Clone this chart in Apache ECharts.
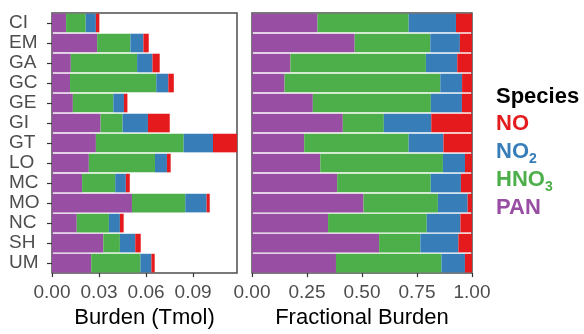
<!DOCTYPE html>
<html>
<head>
<meta charset="utf-8">
<script src="https://cdn.jsdelivr.net/npm/echarts@6/dist/echarts.min.js"></script>
<style>
  html, body { margin: 0; padding: 0; background: #fff; }
  #main { width: 584px; height: 334px; }
</style>
</head>
<body>
<div id="main"></div>
<script>
// regions, top to bottom
var regions = ['CI', 'EM', 'GA', 'GC', 'GE', 'GI', 'GT', 'LO', 'MC', 'MO', 'NC', 'SH', 'UM'];
// burden in Tmol per species
var pan  = [0.0090, 0.0288, 0.0120, 0.0115, 0.0133, 0.0310, 0.0280, 0.0235, 0.0192, 0.0510, 0.0158, 0.0327, 0.0250];
var hno3 = [0.0125, 0.0212, 0.0423, 0.0550, 0.0258, 0.0140, 0.0560, 0.0422, 0.0211, 0.0340, 0.0205, 0.0106, 0.0314];
var no2  = [0.0065, 0.0083, 0.0098, 0.0077, 0.0068, 0.0162, 0.0187, 0.0076, 0.0068, 0.0136, 0.0070, 0.0098, 0.0070];
var no   = [0.0022, 0.0034, 0.0046, 0.0035, 0.0022, 0.0139, 0.0153, 0.0024, 0.0025, 0.0020, 0.0024, 0.0035, 0.0021];
var burdenTicks = [0, 0.03, 0.06, 0.09];
var fracTicks = [0, 0.25, 0.5, 0.75, 1];

var species = [
  { name: 'PAN',  data: pan,  color: '#984EA3' },
  { name: 'HNO3', data: hno3, color: '#4DAF4A' },
  { name: 'NO2',  data: no2,  color: '#377EB8' },
  { name: 'NO',   data: no,   color: '#E41A1C' }
];

var totals = regions.map(function (r, i) {
  return pan[i] + hno3[i] + no2[i] + no[i];
});

var font = 'Liberation Sans, Arial, Helvetica, sans-serif';

var series = [];
species.forEach(function (s) {
  series.push({
    name: s.name, type: 'bar', stack: 'abs', xAxisIndex: 0, yAxisIndex: 0,
    barCategoryGap: '7%', itemStyle: { color: s.color }, data: s.data
  });
});
species.forEach(function (s) {
  series.push({
    name: s.name, type: 'bar', stack: 'frac', xAxisIndex: 1, yAxisIndex: 1,
    barCategoryGap: '7%', itemStyle: { color: s.color },
    data: s.data.map(function (v, i) { return v / totals[i]; })
  });
});

var chartDom = document.getElementById('main');
var myChart = echarts.init(chartDom, null, { renderer: 'canvas' });

function xAxisFor(idx, name, min, max, interval) {
  return {
    type: 'value', gridIndex: idx, min: min, max: max, interval: interval,
    name: name, nameLocation: 'middle', nameGap: 33,
    nameTextStyle: { color: '#000', fontSize: 22, fontFamily: font },
    splitLine: { show: false },
    axisLine: { show: false },
    axisTick: { show: true, length: 4, lineStyle: { color: '#333', width: 1.2 } },
    axisLabel: {
      color: '#4D4D4D', fontSize: 19, fontFamily: font, margin: 10,
      showMaxLabel: idx === 1,
      formatter: function (v) { return v.toFixed(2); }
    }
  };
}

var option = {
  animation: false,
  title: {
    text: 'Species', left: 491, top: 83, padding: [0, 0, 0, 5],
    textStyle: { fontSize: 22, fontWeight: 'bold', color: '#000', fontFamily: font, lineHeight: 28 }
  },
  legend: {
    orient: 'vertical', left: 491, top: 110, padding: 0, itemGap: 0,
    itemWidth: 0, itemHeight: 0,
    data: ['NO', 'NO2', 'HNO3', 'PAN'],
    selectedMode: false,
    formatter: function (n) {
      if (n === 'NO') return '{r|NO}';
      if (n === 'NO2') return '{b|NO}{bs|2}';
      if (n === 'HNO3') return '{g|HNO}{gs|3}';
      return '{p|PAN}';
    },
    textStyle: {
      fontSize: 22, fontWeight: 'bold', fontFamily: font, lineHeight: 28,
      rich: {
        r:  { color: '#E41A1C', fontSize: 22, fontWeight: 'bold', fontFamily: font, lineHeight: 28 },
        b:  { color: '#377EB8', fontSize: 22, fontWeight: 'bold', fontFamily: font, lineHeight: 28 },
        bs: { color: '#377EB8', fontSize: 14, fontWeight: 'bold', fontFamily: font, lineHeight: 18, verticalAlign: 'bottom' },
        g:  { color: '#4DAF4A', fontSize: 22, fontWeight: 'bold', fontFamily: font, lineHeight: 28 },
        gs: { color: '#4DAF4A', fontSize: 14, fontWeight: 'bold', fontFamily: font, lineHeight: 18, verticalAlign: 'bottom' },
        p:  { color: '#984EA3', fontSize: 22, fontWeight: 'bold', fontFamily: font, lineHeight: 28 }
      }
    }
  },
  grid: [
    { left: 52, top: 13, width: 185, height: 266, show: true, borderColor: '#4D4D4D', borderWidth: 1.5, backgroundColor: '#fff' },
    { left: 252, top: 13, width: 220, height: 266, show: true, borderColor: '#4D4D4D', borderWidth: 1.5, backgroundColor: '#fff' }
  ],
  xAxis: [
    xAxisFor(0, 'Burden (Tmol)', burdenTicks[0], 'dataMax', burdenTicks[1] - burdenTicks[0]),
    xAxisFor(1, 'Fractional Burden', fracTicks[0], fracTicks[fracTicks.length - 1], fracTicks[1] - fracTicks[0])
  ],
  yAxis: [
    {
      type: 'category', gridIndex: 0, data: regions, inverse: true,
      axisLine: { show: false },
      axisTick: { show: true, alignWithLabel: true, interval: 0, length: 5, lineStyle: { color: '#333', width: 1.2 } },
      axisLabel: { color: '#4D4D4D', fontSize: 19, fontFamily: font, align: 'left', margin: 43, interval: 0 }
    },
    {
      type: 'category', gridIndex: 1, data: regions, inverse: true,
      axisLine: { show: false }, axisTick: { show: false }, axisLabel: { show: false }
    }
  ],
  series: series
};
option && myChart.setOption(option);
</script>
</body>
</html>
